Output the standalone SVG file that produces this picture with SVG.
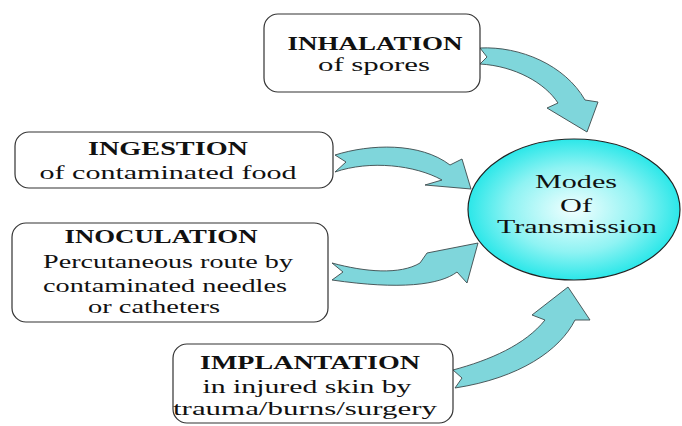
<svg xmlns="http://www.w3.org/2000/svg" width="682" height="426" viewBox="0 0 682 426">
<defs>
<radialGradient id="eg" cx="50%" cy="50%" r="55%">
<stop offset="0" stop-color="#f2ffff"/>
<stop offset="0.55" stop-color="#8ff3f3"/>
<stop offset="1" stop-color="#12e4e6"/>
</radialGradient>
<style>
.box{fill:#fff;stroke:#333;stroke-width:1.2}
.arr{fill:#7fd6db;stroke:#3c4a4c;stroke-width:0.9;stroke-linejoin:round}
.t{font-family:"Liberation Serif","Times New Roman",serif;font-size:19px;fill:#111;text-anchor:middle}
.h{font-weight:bold}
</style>
</defs>
<rect width="682" height="426" fill="#fff"/>
<g id="connectors">
<path class="arr" d="M480,48 C520,46 565,65 585,100 L598,102 L587,132 L547,108 L558,103 C545,83 515,66 480,64 L487,57 Z"/>
<path class="arr" d="M335,155 C370,144 420,142 450,165 L462,159 L471,189 L425,185 L442,180 C415,165 370,160 335,172 L346,162 Z"/>
<path class="arr" d="M332,263 C365,272 400,275 420,263 L427,253 L478,243 L467,283 L457,272 C440,285 400,290 332,280 L343,272 Z"/>
<path class="arr" d="M453,370 C490,360 525,345 545,320 L532,315 L568,287 L590,320 L575,320 C560,350 520,378 455,388 L462,378 Z"/>
</g>
<g id="inhalation">
<rect class="box" x="264" y="14" width="216" height="78" rx="14"/>
<text class="t h" x="375" y="50" textLength="175" lengthAdjust="spacingAndGlyphs">INHALATION</text>
<text class="t" x="374" y="71" textLength="112" lengthAdjust="spacingAndGlyphs">of spores</text>
</g>
<g id="ingestion">
<rect class="box" x="15" y="132" width="318" height="56" rx="14"/>
<text class="t h" x="168" y="155" textLength="160" lengthAdjust="spacingAndGlyphs">INGESTION</text>
<text class="t" x="168" y="179" textLength="257" lengthAdjust="spacingAndGlyphs">of contaminated food</text>
</g>
<g id="inoculation">
<rect class="box" x="12" y="223" width="316" height="99" rx="14"/>
<text class="t h" x="161" y="243" textLength="193" lengthAdjust="spacingAndGlyphs">INOCULATION</text>
<text class="t" x="168" y="268" textLength="250" lengthAdjust="spacingAndGlyphs">Percutaneous route by</text>
<text class="t" x="165" y="292" textLength="244" lengthAdjust="spacingAndGlyphs">contaminated needles</text>
<text class="t" x="154" y="313" textLength="132" lengthAdjust="spacingAndGlyphs">or catheters</text>
</g>
<g id="implantation">
<rect class="box" x="173" y="344" width="280" height="79" rx="14"/>
<text class="t h" x="310" y="369" textLength="220" lengthAdjust="spacingAndGlyphs">IMPLANTATION</text>
<text class="t" x="307" y="393" textLength="209" lengthAdjust="spacingAndGlyphs">in injured skin by</text>
<text class="t" x="305" y="415" textLength="264" lengthAdjust="spacingAndGlyphs">trauma/burns/surgery</text>
</g>
<g id="modes">
<ellipse cx="574" cy="209.5" rx="106" ry="70.5" fill="url(#eg)" stroke="#222" stroke-width="1.2"/>
<text class="t" x="576" y="188" textLength="82" lengthAdjust="spacingAndGlyphs">Modes</text>
<text class="t" x="576" y="212" textLength="32" lengthAdjust="spacingAndGlyphs">Of</text>
<text class="t" x="577" y="233" textLength="160" lengthAdjust="spacingAndGlyphs">Transmission</text>
</g>
</svg>
